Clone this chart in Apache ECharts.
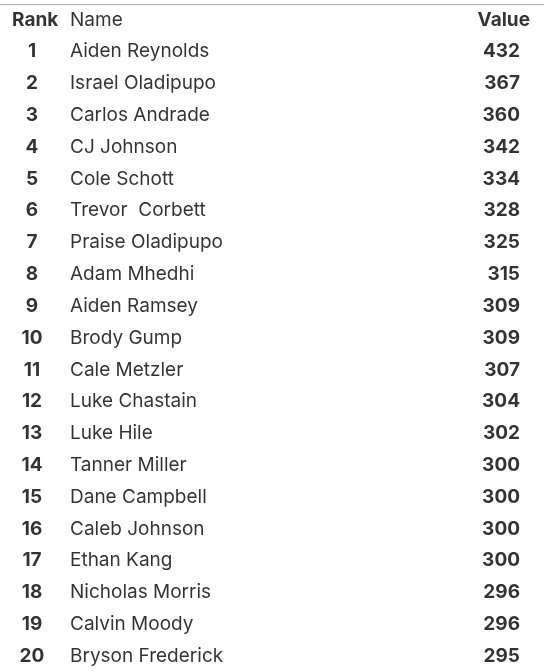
<!DOCTYPE html>
<html><head><meta charset="utf-8">
<script src="https://cdn.jsdelivr.net/npm/echarts@6/dist/echarts.min.js"></script>
<style>html,body{margin:0;padding:0;background:#fff}#c{width:544px;height:672px}</style>
</head><body><div id="c"></div>
<script>
const headers = ["Rank", "Name", "Value"];
const ranks = [1,2,3,4,5,6,7,8,9,10,11,12,13,14,15,16,17,18,19,20];
const names = ["Aiden Reynolds","Israel Oladipupo","Carlos Andrade","CJ Johnson","Cole Schott","Trevor  Corbett","Praise Oladipupo","Adam Mhedhi","Aiden Ramsey","Brody Gump","Cale Metzler","Luke Chastain","Luke Hile","Tanner Miller","Dane Campbell","Caleb Johnson","Ethan Kang","Nicholas Morris","Calvin Moody","Bryson Frederick"];
const values = [432,367,360,342,334,328,325,315,309,309,307,304,302,300,300,300,300,296,296,295];

const rows = ["header"].concat(ranks.map(String));
const colX = {rank: 32, name: 70, value: 520};
const font = "Inter, 'Noto Sans', sans-serif";
function col(x, texts, align, weight, rowStart) {
  return {
    type: 'scatter', symbolSize: 0, silent: true,
    data: texts.map((t, i) => ({value: [x, rows[i + rowStart]], label: {formatter: String(t)}})),
    label: {show: true, position: 'inside', align: align, verticalAlign: 'middle',
      color: '#000', fontSize: 19, fontWeight: weight, fontFamily: font}
  };
}
const chart = echarts.init(document.getElementById('c'));
chart.setOption({
  animation: false,
  grid: {left: 0, right: 0, top: 4, height: 672},
  xAxis: {type: 'value', min: 0, max: 544, position: 'top', show: true,
    axisLine: {show: true, onZero: false, lineStyle: {color: '#aaa', width: 1}},
    axisTick: {show: false}, axisLabel: {show: false}, splitLine: {show: false}},
  yAxis: {type: 'category', data: rows, inverse: true, show: false},
  series: [
    col(colX.rank - 20, [headers[0]], 'left', 'bold', 0),
    col(colX.name, [headers[1]], 'left', 'normal', 0),
    col(colX.value + 10, [headers[2]], 'right', 'bold', 0),
    col(colX.rank, ranks, 'center', 'bold', 1),
    col(colX.name, names, 'left', 'normal', 1),
    col(colX.value, values, 'right', 'bold', 1)
  ]
});
</script></body></html>
